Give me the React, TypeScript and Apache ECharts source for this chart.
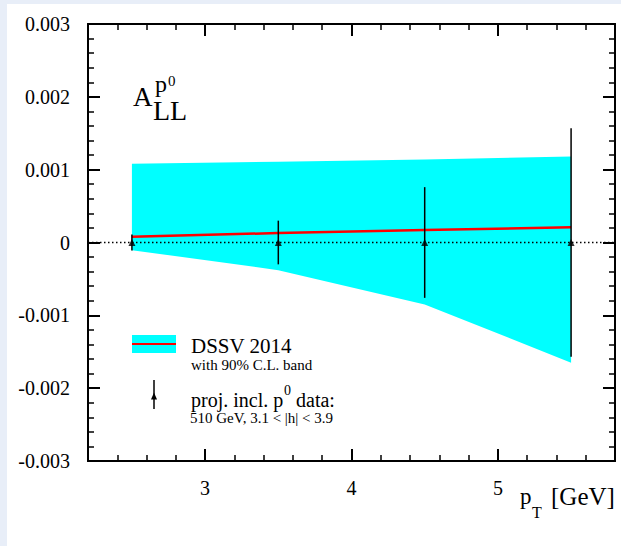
import React, { useEffect, useRef } from 'react';
import * as echarts from 'echarts';

const FONT = 'Liberation Serif';

// ---- data ----
const xValues = [2.5, 3.5, 4.5, 5.5];
const bandUpper = [0.00108, 0.00111, 0.00114, 0.00118];
const bandLower = [-0.000105, -0.00038, -0.00085, -0.00165];
const centralCurve = [0.00008, 0.00013, 0.00017, 0.00021];
const dataValues = [0, 0, 0, 0];
const dataErrors = [0.00011, 0.0003, 0.00076, 0.00157];

// ---- axes ----
const X_MIN = 2.2;
const X_MAX = 5.8;
const xMajorTicks = [3, 4, 5];
const xTickLabels = ['3', '4', '5'];
const xMinorTicks = [2.4, 2.6, 2.8, 3.2, 3.4, 3.6, 3.8, 4.2, 4.4, 4.6, 4.8, 5.2, 5.4, 5.6];
const Y_MIN = -0.003;
const Y_MAX = 0.003;
const Y_STEP = 0.001;
const yMajorTicks = [-0.003, -0.002, -0.001, 0, 0.001, 0.002, 0.003];
const yTickLabels = ['-0.003', '-0.002', '-0.001', '0', '0.001', '0.002', '0.003'];

function buildOption(): any {
  const axisLine = { show: true, onZero: false, lineStyle: { color: '#000', width: 2 } };
  const majorTick = (vals: number[]) => ({
    show: true, inside: true, length: 12, customValues: vals,
    lineStyle: { color: '#000', width: 2 },
  });
  const minorTick = (vals: number[]) => ({
    show: true, inside: true, length: 6, customValues: vals,
    lineStyle: { color: '#000', width: 1.5 },
  });
  const baseX = {
    type: 'value', min: X_MIN, max: X_MAX, gridIndex: 0,
    splitLine: { show: false }, axisLine, axisLabel: { show: false },
  };
  const baseY = {
    type: 'value', min: Y_MIN, max: Y_MAX, interval: Y_STEP, gridIndex: 0,
    splitLine: { show: false }, axisLine, axisLabel: { show: false },
    axisTick: { show: true, inside: true, length: 12, lineStyle: { color: '#000', width: 2 } },
    minorTick: { show: true, splitNumber: 5, length: 6, lineStyle: { color: '#000', width: 1.5 } },
    minorSplitLine: { show: false },
  };
  const txtStyle = (text: string, size: number, align: string, vAlign: string) => ({
    text, fontSize: size, fontFamily: FONT, fill: '#000', align, verticalAlign: vAlign,
    lineHeight: Math.round(size * 0.9),
  });
  const txt = (text: string, x: number, y: number, size: number) => ({
    type: 'text', x, y, z: 100, style: txtStyle(text, size, 'left', 'middle'),
  });

  return {
    animation: false,
    backgroundColor: 'transparent',
    textStyle: { fontFamily: FONT },
    grid: { left: 88, top: 24, width: 527, height: 437, containLabel: false },
    xAxis: [
      { ...baseX, position: 'bottom', axisTick: majorTick(xMajorTicks) },
      { ...baseX, position: 'bottom', axisTick: minorTick(xMinorTicks) },
      { ...baseX, position: 'top', axisTick: majorTick(xMajorTicks) },
      { ...baseX, position: 'top', axisTick: minorTick(xMinorTicks) },
    ],
    yAxis: [
      { ...baseY, position: 'left' },
      { ...baseY, position: 'right' },
    ],
    series: [
      {
        type: 'custom', name: 'band', xAxisIndex: 0, yAxisIndex: 0, z: 1,
        data: xValues.map((x, i) => [x, bandLower[i], bandUpper[i]]),
        encode: { x: 0, y: [1, 2] },
        renderItem: (params: any, api: any) => {
          if (params.dataIndex !== 0) return null;
          const up = xValues.map((x, i) => api.coord([x, bandUpper[i]]));
          const lo = xValues.map((x, i) => api.coord([x, bandLower[i]])).reverse();
          return { type: 'polygon', shape: { points: up.concat(lo) }, style: { fill: '#00ffff' } };
        },
      },
      {
        type: 'line', name: 'zero', xAxisIndex: 0, yAxisIndex: 0, z: 2,
        data: [[X_MIN, 0], [X_MAX, 0]], symbol: 'none', silent: true,
        lineStyle: { color: '#000', width: 1.5, type: [1.5, 2.5] },
      },
      {
        type: 'line', name: 'DSSV 2014', xAxisIndex: 0, yAxisIndex: 0, z: 3,
        data: xValues.map((x, i) => [x, centralCurve[i]]), symbol: 'none',
        lineStyle: { color: '#ff0000', width: 2.5 },
      },
      {
        type: 'custom', name: 'errors', xAxisIndex: 0, yAxisIndex: 0, z: 4,
        data: xValues.map((x, i) => [x, dataValues[i], dataErrors[i]]),
        encode: { x: 0, y: 1 },
        renderItem: (params: any, api: any) => {
          const x = api.value(0);
          const y = api.value(1);
          const e = api.value(2);
          const t = api.coord([x, y + e]);
          const b = api.coord([x, y - e]);
          return {
            type: 'line', shape: { x1: t[0], y1: t[1], x2: b[0], y2: b[1] },
            style: { stroke: '#000', lineWidth: 1.5 },
          };
        },
      },
      {
        type: 'scatter', name: 'data', xAxisIndex: 0, yAxisIndex: 0, z: 5,
        data: xValues.map((x, i) => [x, dataValues[i]]),
        symbol: 'triangle', symbolSize: 7, itemStyle: { color: '#000' },
      },
      // y tick labels, placed through the y scale
      {
        type: 'custom', name: 'yLabels', xAxisIndex: 0, yAxisIndex: 0, z: 6, clip: false, silent: true,
        data: yMajorTicks.map((v) => [X_MIN, v]),
        encode: { x: 0, y: 1 },
        renderItem: (params: any, api: any) => {
          const p = api.coord([api.value(0), api.value(1)]);
          return {
            type: 'text', x: p[0] - 18, y: p[1],
            style: txtStyle(yTickLabels[params.dataIndex], 20, 'right', 'middle'),
          };
        },
      },
      // x tick labels, placed through the x scale
      {
        type: 'custom', name: 'xLabels', xAxisIndex: 0, yAxisIndex: 0, z: 6, clip: false, silent: true,
        data: xMajorTicks.map((v) => [v, Y_MIN]),
        encode: { x: 0, y: 1 },
        renderItem: (params: any, api: any) => {
          const p = api.coord([api.value(0), api.value(1)]);
          return {
            type: 'text', x: p[0], y: p[1] + 27,
            style: txtStyle(xTickLabels[params.dataIndex], 20, 'center', 'middle'),
          };
        },
      },
    ],
    graphic: [
      // A_LL^p0 label
      txt('A', 133, 97, 27),
      txt('LL', 153, 110, 28),
      txt('p', 155, 84, 24),
      txt('0', 168, 81, 15),
      // legend
      { type: 'rect', shape: { x: 132, y: 335, width: 44, height: 18 }, style: { fill: '#00ffff' }, z: 100 },
      { type: 'line', shape: { x1: 132, y1: 344, x2: 176, y2: 344 }, style: { stroke: '#ff0000', lineWidth: 2 }, z: 101 },
      txt('DSSV 2014', 191, 346, 21),
      txt('with 90% C.L. band', 191, 365, 15),
      { type: 'line', shape: { x1: 154, y1: 380, x2: 154, y2: 409 }, style: { stroke: '#000', lineWidth: 1.5 }, z: 100 },
      { type: 'polygon', shape: { points: [[151, 399.5], [157, 399.5], [154, 392.5]] }, style: { fill: '#000' }, z: 101 },
      txt('proj. incl. p', 191, 399.5, 20),
      txt('0', 284, 390, 14),
      txt(' data:', 291, 399.5, 20),
      txt('510 GeV, 3.1 < |h| < 3.9', 190, 418, 15),
      // x-axis title
      txt('p', 520, 496.5, 23),
      txt('T', 532, 512, 16),
      txt('[GeV]', 551, 496.5, 25),
    ],
  };
}

export default function App() {
  const ref = useRef<HTMLDivElement>(null);
  useEffect(() => {
    if (!ref.current) return;
    const chart = echarts.init(ref.current, null, { renderer: 'svg' });
    chart.setOption(buildOption());
    return () => chart.dispose();
  }, []);
  return (
    <div style={{ position: 'absolute', left: 0, top: 0, width: 621, height: 546, background: '#e8eef8', overflow: 'hidden' }}>
      <div style={{ position: 'absolute', left: 7, top: 4, width: 614, height: 542, background: '#ffffff' }} />
      <div ref={ref} style={{ position: 'absolute', left: 0, top: 0, width: 621, height: 546 }} />
    </div>
  );
}
